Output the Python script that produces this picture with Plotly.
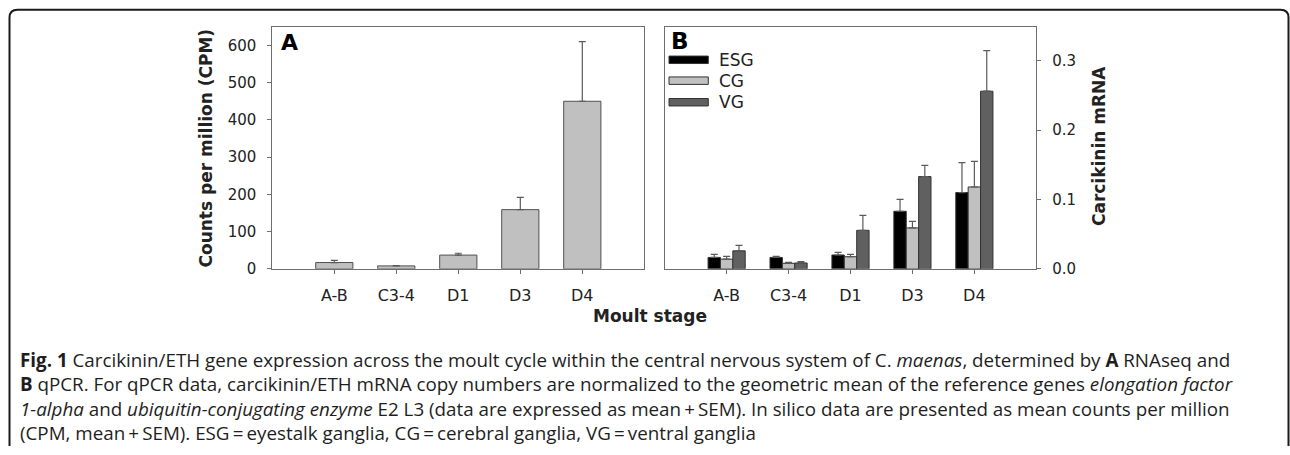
import plotly.graph_objects as go

# Moult stages (shared x categories)
stages = ["A-B", "C3-4", "D1", "D3", "D4"]

# Panel A: RNAseq, counts per million (mean, SEM)
cpm_mean = [17, 8, 37, 159, 450]
cpm_sem = [6, 1, 5, 33, 160]

# Panel B: qPCR, carcikinin mRNA (mean, SEM) per tissue
esg_mean = [0.0165, 0.0165, 0.020, 0.083, 0.110]
esg_sem = [0.0045, 0.0015, 0.0037, 0.017, 0.043]
cg_mean = [0.014, 0.008, 0.0175, 0.059, 0.118]
cg_sem = [0.004, 0.0015, 0.0035, 0.0095, 0.037]
vg_mean = [0.026, 0.0085, 0.0555, 0.133, 0.256]
vg_sem = [0.008, 0.002, 0.0215, 0.016, 0.0585]

cpm_ticks = [0, 100, 200, 300, 400, 500, 600]
mrna_ticks = [0.0, 0.1, 0.2, 0.3]
mrna_ticktext = ["0.0", "0.1", "0.2", "0.3"]

W, H = 1290, 455
FONT = "DejaVu Sans"
INK = "#222222"
AXIS = "#6e6e6e"
ERR = "#5a5a5a"


def px(x):
    return x / W


def py(y):
    return 1 - y / H


def err(vals):
    return dict(type="data", array=vals, arrayminus=[0] * len(vals),
                symmetric=False, color=ERR, thickness=1.2, width=3.5)


fig = go.Figure()

fig.add_trace(go.Bar(
    x=stages, y=cpm_mean, error_y=err(cpm_sem), name="CPM",
    marker=dict(color="#c0c0c0", line=dict(color="#505050", width=1)),
    xaxis="x", yaxis="y", showlegend=False,
))

tissues = [
    ("ESG", esg_mean, esg_sem, "#000000"),
    ("CG", cg_mean, cg_sem, "#c0c0c0"),
    ("VG", vg_mean, vg_sem, "#606060"),
]
for name, mean, sem, col in tissues:
    fig.add_trace(go.Bar(
        x=stages, y=mean, error_y=err(sem), name=name,
        marker=dict(color=col, line=dict(color="#333333", width=1)),
        xaxis="x2", yaxis="y2", showlegend=False,
    ))

ydom = [py(274.3), py(27.7)]
common_x = dict(type="category", categoryorder="array", categoryarray=stages,
                range=[-1, 5], showline=True, mirror=True, linecolor=AXIS,
                linewidth=1, ticks="outside", ticklen=4, tickcolor=AXIS,
                tickfont=dict(family=FONT, size=16, color=INK),
                ticklabelstandoff=8, showgrid=False, zeroline=False,
                fixedrange=True)

fig.update_layout(
    width=W, height=H,
    margin=dict(l=0, r=0, t=0, b=0),
    paper_bgcolor="white", plot_bgcolor="white",
    barmode="group", bargap=0.4, bargroupgap=0,
    font=dict(family=FONT, color=INK),
    xaxis=dict(domain=[px(272.3), px(644.3)], anchor="y", **common_x),
    xaxis2=dict(domain=[px(664.7), px(1036.3)], anchor="y2", **common_x),
    yaxis=dict(domain=ydom, anchor="x", range=[0, 649], tickvals=cpm_ticks,
               showline=True, mirror=True, linecolor=AXIS, linewidth=1,
               ticks="outside", ticklen=4, tickcolor=AXIS,
               tickfont=dict(family=FONT, size=15, color=INK),
               ticklabelstandoff=8, showgrid=False, zeroline=False),
    yaxis2=dict(domain=ydom, anchor="x2", side="right", range=[0, 0.3483],
                tickvals=mrna_ticks, ticktext=mrna_ticktext,
                showline=True, mirror=True, linecolor=AXIS, linewidth=1,
                ticks="outside", ticklen=4, tickcolor=AXIS,
                tickfont=dict(family=FONT, size=15, color=INK),
                ticklabelstandoff=8, showgrid=False, zeroline=False),
)

ann = []
# axis titles and panel letters
ann.append(dict(x=px(206.5), y=py(151), text="<b>Counts per million (CPM)</b>",
                textangle=-90, font=dict(family=FONT, size=17, color=INK)))
ann.append(dict(x=px(1099), y=py(149), text="<b>Carcikinin mRNA</b>",
                textangle=-90, font=dict(family=FONT, size=17, color=INK)))
ann.append(dict(x=px(649.5), y=py(322.5), text="<b>Moult stage</b>",
                font=dict(family=FONT, size=17, color=INK)))
ann.append(dict(x=px(279), y=py(43.5), text="<b>A</b>", xanchor="left",
                font=dict(family=FONT, size=22, color="#000000")))
ann.append(dict(x=px(669), y=py(41.5), text="<b>B</b>", xanchor="left",
                font=dict(family=FONT, size=23, color="#000000")))

# legend for panel B
shapes = []
leg_y = [61, 82.3, 104.3]
for (name, _, _, col), yc in zip(tissues, leg_y):
    shapes.append(dict(type="rect", xref="paper", yref="paper",
                       x0=px(669), x1=px(708.3), y0=py(yc - 3.8), y1=py(yc + 3.8),
                       fillcolor=col, line=dict(color="#333333", width=1)))
    ann.append(dict(x=px(717), y=py(yc), text=name, xanchor="left",
                    font=dict(family=FONT, size=17, color=INK)))

# caption as a single multi-line block
CAP = "Open Sans"
cap_lines = [
    "<b>Fig. 1</b> Carcikinin/ETH gene expression across the moult cycle within the central nervous system of C. <i>maenas</i>, determined by <b>A</b> RNAseq and",
    "<b>B</b> qPCR. For qPCR data, carcikinin/ETH mRNA copy numbers are normalized to the geometric mean of the reference genes <i>elongation factor</i>",
    "<i>1-alpha</i> and <i>ubiquitin-conjugating enzyme</i> E2 L3 (data are expressed as mean\u2009+\u2009SEM). In silico data are presented as mean counts per million",
    "(CPM, mean\u2009+\u2009SEM). ESG\u2009=\u2009eyestalk ganglia, CG\u2009=\u2009cerebral ganglia, VG\u2009=\u2009ventral ganglia",
]
ann.append(dict(x=px(18), y=py(405), text="<br>".join(cap_lines),
                xanchor="left", align="left",
                font=dict(family=CAP, size=18.8, color="#1e1e1e")))

for a in ann:
    a.setdefault("xref", "paper")
    a.setdefault("yref", "paper")
    a.setdefault("showarrow", False)
    a.setdefault("xanchor", "center")
    a.setdefault("yanchor", "middle")

# rounded outer frame (open at the bottom)
r = 8
frame = (f"M {px(9.5)} {py(455)} L {px(9.5)} {py(10 + r)} "
         f"Q {px(9.5)} {py(10)} {px(9.5 + r)} {py(10)} "
         f"L {px(1288.5 - r)} {py(10)} "
         f"Q {px(1288.5)} {py(10)} {px(1288.5)} {py(10 + r)} "
         f"L {px(1288.5)} {py(455)}")
shapes.append(dict(type="path", xref="paper", yref="paper", path=frame,
                   line=dict(color="#1a1a1a", width=2)))

fig.update_layout(annotations=ann, shapes=shapes)
fig.write_html("out.html")
